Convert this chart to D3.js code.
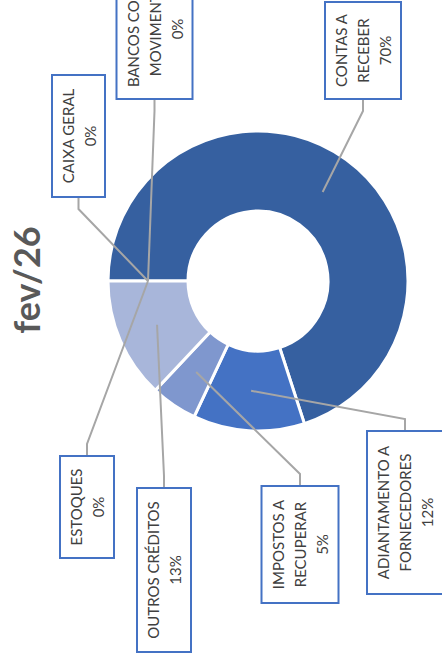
<!DOCTYPE html>
<html>
<head>
<meta charset="utf-8">
<script src="https://cdn.jsdelivr.net/npm/d3@7/dist/d3.min.js"></script>
<style>
  html, body { margin: 0; padding: 0; background: #ffffff; overflow: hidden; }
  svg { display: block; }
</style>
</head>
<body>
<svg id="chart" width="442" height="662"></svg>
<script>
// ---- data ----
const title = "fev/26";
const categories = [
  "CAIXA GERAL",
  "BANCOS CONTA MOVIMENTO",
  "CONTAS A RECEBER",
  "ADIANTAMENTO A FORNECEDORES",
  "IMPOSTOS A RECUPERAR",
  "OUTROS CRÉDITOS",
  "ESTOQUES"
];
const values = [0, 0, 70, 12, 5, 13, 0];
const labelLines = [
  ["CAIXA GERAL"],
  ["BANCOS CONTA", "MOVIMENTO"],
  ["CONTAS A", "RECEBER"],
  ["ADIANTAMENTO A", "FORNECEDORES"],
  ["IMPOSTOS A", "RECUPERAR"],
  ["OUTROS CRÉDITOS"],
  ["ESTOQUES"]
];

// ---- styles & layout ----
const colors = ["#3660A0", "#3660A0", "#3660A0", "#4472C4", "#7F97CE", "#A8B6DA", "#A8B6DA"];
const cx = 258, cy = 281, rInner = 70, rOuter = 150;
// label box screen geometry: center x, center y, screen width, screen height
const boxes = [
  { x: 78.5, y: 136, w: 53, h: 122 },
  { x: 154.5, y: 29, w: 76, h: 140 },
  { x: 363, y: 50.5, w: 76, h: 97 },
  { x: 405, y: 512.5, w: 76, h: 163 },
  { x: 300, y: 544.5, w: 77, h: 117 },
  { x: 164, y: 570, w: 54, h: 164 },
  { x: 87, y: 507, w: 54, h: 102 }
];
const lineGap = 22;
const elbow = 12;

const svg = d3.select("#chart");
svg.append("rect").attr("width", 442).attr("height", 662).attr("fill", "#ffffff");

const total = d3.sum(values);
const data = categories.map((c, i) => ({ name: c, value: values[i], i }));

const pie = d3.pie().value(d => d.value).sort(null)
  .startAngle(-Math.PI / 2).endAngle(3 * Math.PI / 2);
const arc = d3.arc().innerRadius(rInner).outerRadius(rOuter);
const arcs = pie(data);

const g = svg.append("g").attr("transform", `translate(${cx},${cy})`);
g.selectAll("path.slice")
  .data(arcs.filter(d => d.data.value > 0))
  .join("path")
  .attr("class", "slice")
  .attr("d", arc)
  .attr("fill", d => colors[d.data.i])
  .attr("stroke", "#ffffff")
  .attr("stroke-width", 3)
  .attr("stroke-linejoin", "miter");

// leader lines
const lines = svg.append("g");
arcs.forEach(d => {
  const b = boxes[d.data.i];
  const c = arc.centroid(d);
  const ax = cx + c[0], ay = cy + c[1];
  const above = b.y < cy;
  const ey = above ? b.y + b.h / 2 : b.y - b.h / 2;
  const ky = above ? ey + elbow : ey - elbow;
  lines.append("path")
    .attr("d", d3.line()([[ax, ay], [b.x, ky], [b.x, ey]]))
    .attr("fill", "none")
    .attr("stroke", "#A6A6A6")
    .attr("stroke-width", 2);
});

// label boxes
const fmt = d3.format(".0%");
const labels = svg.append("g");
arcs.forEach(d => {
  const b = boxes[d.data.i];
  const lg = labels.append("g")
    .attr("transform", `translate(${b.x},${b.y}) rotate(-90)`);
  lg.append("rect")
    .attr("x", -b.h / 2).attr("y", -b.w / 2)
    .attr("width", b.h).attr("height", b.w)
    .attr("fill", "#ffffff")
    .attr("stroke", "#4472C4")
    .attr("stroke-width", 2);
  const txt = labelLines[d.data.i].concat([fmt(d.data.value / total)]);
  const n = txt.length;
  txt.forEach((t, k) => {
    lg.append("text")
      .attr("x", 0)
      .attr("y", (k - (n - 1) / 2) * lineGap)
      .attr("text-anchor", "middle")
      .attr("dominant-baseline", "central")
      .attr("font-family", "Lato, 'Open Sans', sans-serif")
      .attr("font-size", 15)
      .attr("fill", "#404040")
      .text(t);
  });
});

// title
svg.append("text")
  .attr("transform", `translate(40,280) rotate(-90)`)
  .attr("text-anchor", "middle")
  .attr("font-family", "Lato, 'Open Sans', sans-serif")
  .attr("font-weight", "bold")
  .attr("font-size", 36)
  .attr("fill", "#595959")
  .text(title);
</script>
</body>
</html>
